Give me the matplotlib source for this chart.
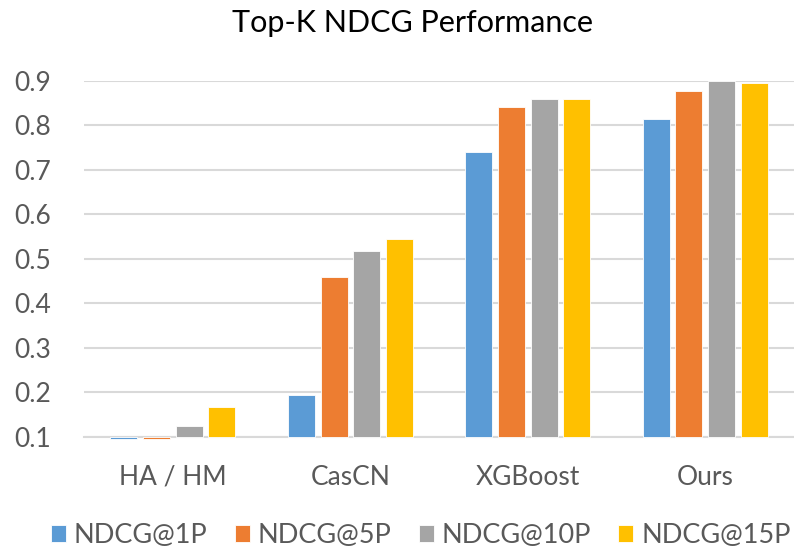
import numpy as np
import matplotlib.pyplot as plt

plt.rcParams['font.family'] = ['Lato', 'DejaVu Sans']

models = ['HA / HM', 'CasCN', 'XGBoost', 'Ours']
series = ['NDCG@1P', 'NDCG@5P', 'NDCG@10P', 'NDCG@15P']
ndcg_1p = [0.096, 0.195, 0.740, 0.814]
ndcg_5p = [0.096, 0.460, 0.841, 0.877]
ndcg_10p = [0.125, 0.517, 0.859, 0.900]
ndcg_15p = [0.168, 0.544, 0.859, 0.895]
colors = ['#5B9BD5', '#ED7D31', '#A5A5A5', '#FFC000']

base = 0.1
fig = plt.figure(figsize=(7.94, 5.51), dpi=100)
ax = fig.add_axes([0.106, 0.207, 0.894, 0.646])

x = np.arange(len(models))
slot = 0.184
width = 0.152
for k, vals in enumerate([ndcg_1p, ndcg_5p, ndcg_10p, ndcg_15p]):
    h = np.array(vals) - base
    ax.bar(x + (k - 1.5) * slot, h, width, bottom=base, color=colors[k],
           edgecolor='white', linewidth=0.6, label=series[k], zorder=3,
           clip_on=False)

ax.set_xlim(-0.5, len(models) - 0.5)
ax.set_ylim(0.1, 0.9)
ax.set_yticks(np.arange(0.1, 0.91, 0.1))
ax.set_yticklabels(['%.1f' % v for v in np.arange(0.1, 0.91, 0.1)])
ax.set_xticks(x)
ax.set_xticklabels(models)
ax.yaxis.grid(True, color='#D9D9D9', linewidth=1.5, zorder=0)
ax.set_axisbelow(True)
for s in ['top', 'right', 'left']:
    ax.spines[s].set_visible(False)
ax.spines['bottom'].set_color('#D9D9D9')
ax.spines['bottom'].set_linewidth(1.5)
ax.tick_params(axis='both', length=0, labelsize=19, colors='#595959')
ax.tick_params(axis='x', pad=20)
ax.tick_params(axis='y', pad=50)
for t in ax.get_yticklabels():
    t.set_horizontalalignment('left')

fig.text(0.52, 0.958, 'Top-K NDCG Performance', ha='center', va='center',
         fontsize=22, color='black')

fig.legend(loc='center', bbox_to_anchor=(0.53, 0.028), ncol=4, frameon=False,
           fontsize=19.5, labelcolor='#595959', handlelength=0.55,
           handleheight=0.55, handletextpad=0.3, columnspacing=1.0)

fig.savefig('out.png', dpi=100)
